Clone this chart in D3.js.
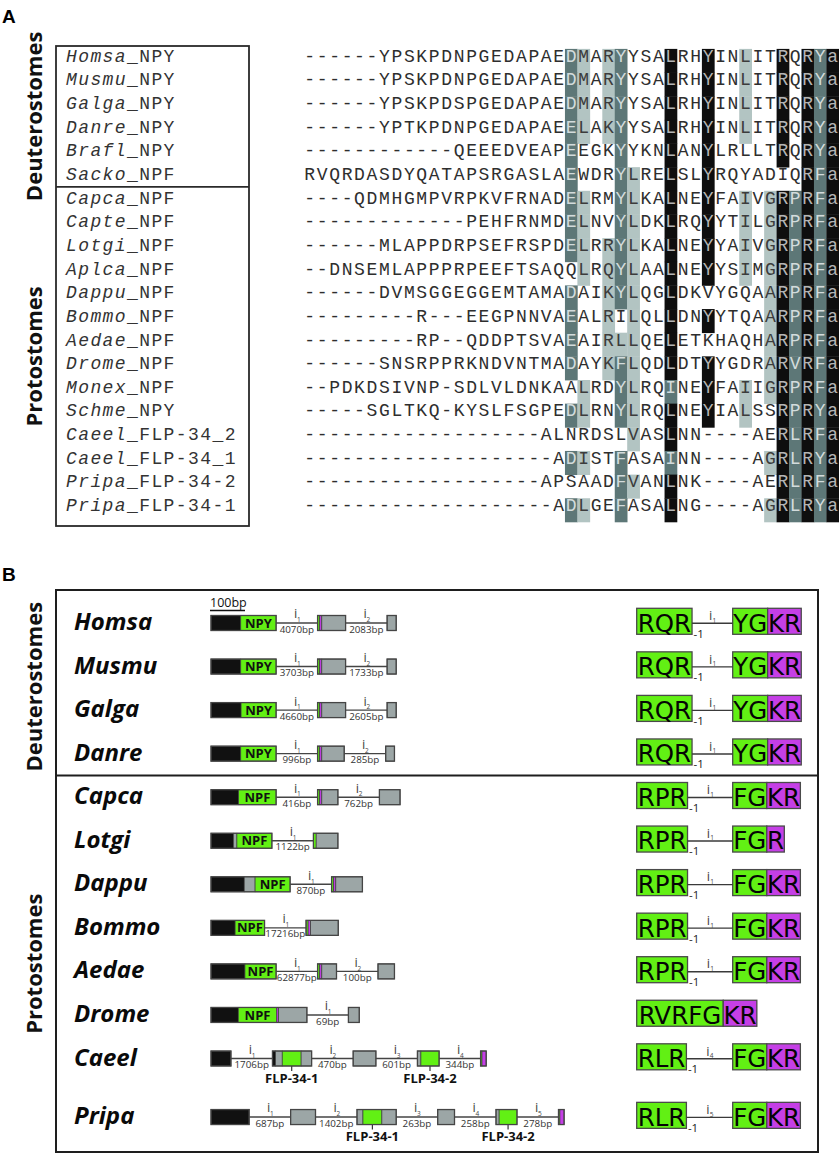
<!DOCTYPE html>
<html><head><meta charset="utf-8">
<script src="https://cdn.jsdelivr.net/npm/d3@7"></script>
<style>body{margin:0;background:#fff}svg{display:block}</style>
</head><body><svg id="c" width="839" height="1153"></svg>
<script>
// ---------------- Panel A data ----------------
const alnSpecies = ["Homsa","Musmu","Galga","Danre","Brafl","Sacko","Capca","Capte","Lotgi","Aplca","Dappu","Bommo","Aedae","Drome","Monex","Schme","Caeel","Caeel","Pripa","Pripa"];
const alnGene = ["_NPY","_NPY","_NPY","_NPY","_NPY","_NPF","_NPF","_NPF","_NPF","_NPF","_NPF","_NPF","_NPF","_NPF","_NPF","_NPY","_FLP-34_2","_FLP-34_1","_FLP-34-2","_FLP-34-1"];
const alnSeqs = [
"------YPSKPDNPGEDAPAEDMARYYSALRHYINLITRQRYa",
"------YPSKPDNPGEDAPAEDMARYYSALRHYINLITRQRYa",
"------YPSKPDSPGEDAPAEDMARYYSALRHYINLITRQRYa",
"------YPTKPDNPGEDAPAEELAKYYSALRHYINLITRQRYa",
"------------QEEEDVEAPEEGKYYKNLANYLRLLTRQRYa",
"RVQRDASDYQATAPSRGASLAEWDRYLRELSLYRQYADIQRFa",
"----QDMHGMPVRPKVFRNADELRMYLKALNEYFAIVGRPRFa",
"-------------PEHFRNMDELNVYLDKLRQYYTILGRPRFa",
"------MLAPPDRPSEFRSPDELRRYLKALNEYYAIVGRPRFa",
"--DNSEMLAPPPRPEEFTSAQQLRQYLAALNEYYSIMGRPRFa",
"------DVMSGGEGGEMTAMADAIKYLQGLDKVYGQAARPRFa",
"---------R---EEGPNNVAEALRILQLLDNYYTQAARPRFa",
"---------RP--QDDPTSVAEAIRLLQELETKHAQHARPRFa",
"------SNSRPPRKNDVNTMADAYKFLQDLDTYYGDRARVRFa",
"--PDKDSIVNP-SDLVLDNKAALRDYLRQINEYFAIIGRPRFa",
"-----SGLTKQ-KYSLFSGPEDLRNYLRQLNEYIALSSRPRYa",
"-------------------ALNRDSLVASLNN----AERLRFa",
"--------------------ADISTFASAINN----AGRLRYa",
"-------------------APSAADFVANLNK----AERLRFa",
"--------------------ADLGEFASALNG----AGRLRYa"
];
// shading of columns 21..42 (l = light, d = dark, b = black, . = none)
const alnShadeTail = [
"dl.ld...b..b..l..b.bdb",
"dl.ld...b..b..l..b.bdb",
"dl.ld...b..b..l..b.bdb",
"dl.ld...b..b..l..b.bdb",
"d...d...b..b.....b.bdb",
"d...dl..b..b.......bdb",
"dl..dl..b..b..l.lbdbdb",
"dl..dl..b..b..l.lbdbdb",
"dl.ldl..b..b..l.lbdbdb",
".l.ldl..b..b..l.lbdbdb",
"d..ldl..b.......lbdbdb",
"d..l.l..b..b....lbdbdb",
"d..lll..b.......lbdbdb",
"d..ldl..b..b....lbdbdb",
".l..dl..d..b..l.lbdbdb",
"dl..dl..b..b..l..bdbdb",
".....l..b........bdbdb",
"dl..d...d.......lbdbdb",
"....dl..b........bdbdb",
"dl..d...b.......lbdbdb"
];
const alnGroups = ["Deuterostomes","Protostomes"];
const alnGroupRows = [[0,5],[6,19]];

// ---------------- Panel B data ----------------
const bSpecies = ["Homsa","Musmu","Galga","Danre","Capca","Lotgi","Dappu","Bommo","Aedae","Drome","Caeel","Pripa"];
// exons: list of segments [type, bp, label]; k=black(signal), g=green(peptide), p=purple(cleavage), s=grey
const bExons = [
 [[["k",85],["g",101,"NPY"]], [["g",6],["p",6],["s",68]], [["s",26]]],
 [[["k",85],["g",101,"NPY"]], [["g",6],["p",6],["s",68]], [["s",26]]],
 [[["k",86],["g",100,"NPY"]], [["g",6],["p",6],["s",68]], [["s",26]]],
 [[["k",85],["g",101,"NPY"]], [["g",6],["p",6],["s",64]], [["s",25]]],
 [[["k",79],["g",107,"NPF"]], [["g",6],["p",6],["s",46]], [["s",59]]],
 [[["k",64],["s",10],["g",100,"NPF"]], [["g",8],["s",62]]],
 [[["k",95],["s",31],["g",100,"NPF"]], [["g",6],["p",6],["s",76]]],
 [[["k",69],["g",84,"NPF"]], [["g",6],["p",7],["s",79]]],
 [[["k",97],["g",89,"NPF"]], [["g",6],["p",6],["s",42]], [["s",47]]],
 [[["k",78],["g",110,"NPF"],["p",5],["s",81]], [["s",31]]],
 [[["k",57]], [["k",9],["s",19],["g",54,"FLP-34-1"],["s",30]], [["s",65]], [["s",10],["g",52,"FLP-34-2"]], [["g",4],["p",12]]],
 [[["k",109]], [["s",71]], [["s",17],["g",54,"FLP-34-1"],["s",41]], [["s",48]], [["s",9],["g",51,"FLP-34-2"]], [["g",4],["p",12]]]
];
const bIntrons = [
 [4070,2083],[3703,1733],[4660,2605],[996,285],[416,762],[1122],[870],[17216],[62877,100],[69],
 [1706,470,601,344],[687,1402,263,258,278]
];
const pepLeft = ["RQR","RQR","RQR","RQR","RPR","RPR","RPR","RPR","RPR","RVRFG","RLR","RLR"];
const pepIntron = [1,1,1,1,1,1,1,1,1,null,4,5];
const pepGreen = ["YG","YG","YG","YG","FG","FG","FG","FG","FG","","FG","FG"];
const pepPurple = ["KR","KR","KR","KR","KR","R","KR","KR","KR","KR","KR","KR"];
const bGroups = ["Deuterostomes","Protostomes"];

// ---------------- drawing ----------------
const svg = d3.select("#c");
svg.append("rect").attr("width",839).attr("height",1153).attr("fill","#fff");

const seqFont = "'Liberation Mono', 'DejaVu Sans Mono', monospace";
const sansFont = "'Open Sans', 'DejaVu Sans', sans-serif";

// Panel letters
svg.append("text").attr("x",2).attr("y",23).text("A")
  .style("font-family","'Liberation Sans', Arial, sans-serif").style("font-weight","bold").style("font-size","19px");
svg.append("text").attr("x",2).attr("y",581).text("B")
  .style("font-family","'Liberation Sans', Arial, sans-serif").style("font-weight","bold").style("font-size","19px");

// ---- Panel A ----
const nCol = alnSeqs[0].length;
const colW = 12.45, rowH = 23.65;
const xCol = d3.scaleLinear().domain([0, nCol]).range([303.5, 303.5 + colW * nCol]);
const yRow = d3.scaleLinear().domain([0, alnSeqs.length - 1]).range([61.7, 61.7 + rowH * (alnSeqs.length - 1)]);
const shadeFill = {l:"#b2c4c2", d:"#5d7777", b:"#0e0e0e"};
const textFill = {".":"#2e2e2e", l:"#3c3c3c", d:"#d3dcdc", b:"#b5b5b5"};
const alnShade = alnShadeTail.map(s => s.padStart(nCol, "."));

const cells = [];
alnSeqs.forEach((s, r) => { for (let c = 0; c < s.length; c++) cells.push({r, c, ch: s[c], sh: alnShade[r][c]}); });
const gA = svg.append("g");
gA.selectAll("rect.sh").data(cells.filter(d => d.sh !== ".")).join("rect")
  .attr("class","sh")
  .attr("x", d => xCol(d.c)).attr("y", d => yRow(d.r) - 12.8)
  .attr("width", colW + 0.3).attr("height", rowH + 0.4)
  .attr("fill", d => shadeFill[d.sh]);
gA.selectAll("text.aa").data(cells).join("text")
  .attr("class","aa")
  .attr("x", d => xCol(d.c) + colW / 2).attr("y", d => yRow(d.r))
  .attr("text-anchor","middle")
  .style("font-family", seqFont).style("font-size","18px")
  .attr("fill", d => textFill[d.sh]).text(d => d.ch);

// names
const nameT = gA.selectAll("text.nm").data(alnSpecies).join("text")
  .attr("class","nm").attr("x",66).attr("y",(d,i) => yRow(i))
  .style("font-family", seqFont).style("font-size","18px").style("letter-spacing","1.4px").attr("fill","#333");
nameT.append("tspan").style("font-style","italic").text(d => d);
nameT.append("tspan").text((d,i) => alnGene[i]);

// box
const boxTop = 46, boxBot = 526, boxL = 56, boxR = 249;
const divA = (yRow(alnGroupRows[0][1]) + yRow(alnGroupRows[1][0])) / 2 - 5;
gA.append("rect").attr("x",boxL).attr("y",boxTop).attr("width",boxR-boxL).attr("height",boxBot-boxTop)
  .attr("fill","none").attr("stroke","#2a2a2a").attr("stroke-width",1.8);
gA.append("line").attr("x1",boxL).attr("x2",boxR).attr("y1",divA).attr("y2",divA)
  .attr("stroke","#2a2a2a").attr("stroke-width",1.8);
const aRegions = [[boxTop, divA],[divA, boxBot]];
alnGroups.forEach((g,i) => {
  const cy = (aRegions[i][0] + aRegions[i][1]) / 2;
  gA.append("text").attr("transform",`translate(42,${cy}) rotate(-90)`).attr("text-anchor","middle")
    .style("font-family",sansFont).style("font-weight","bold").style("font-size","22px").attr("fill","#111").text(g);
});

// ---- Panel B ----
const gB = svg.append("g");
const bTop = 590, bBot = 1152, bL = 56, bR = 818;
const rowGap = 43.55;
// extra room after rows that carry peptide labels below
const yB = [];
{ let y = 623; bExons.forEach((ex,i) => { yB.push(y); const hasBelow = ex.some(e => e.some(s => s[2] && s[2].startsWith("FLP"))); y += rowGap + (hasBelow ? 15 : 0); }); }
const divB = (yB[3] + yB[4]) / 2;

gB.append("rect").attr("x",bL).attr("y",bTop).attr("width",bR-bL).attr("height",bBot-bTop)
  .attr("fill","none").attr("stroke","#1e1e1e").attr("stroke-width",2);
gB.append("line").attr("x1",bL).attr("x2",bR).attr("y1",divB).attr("y2",divB).attr("stroke","#1e1e1e").attr("stroke-width",2);
const bRegions = [[bTop, divB],[divB, bBot]];
bGroups.forEach((g,i) => {
  const cy = (bRegions[i][0] + bRegions[i][1]) / 2 + (i === 0 ? 4 : 0);
  gB.append("text").attr("transform",`translate(42,${cy}) rotate(-90)`).attr("text-anchor","middle")
    .style("font-family",sansFont).style("font-weight","bold").style("font-size","22px").attr("fill","#111").text(g);
});

const bp = d3.scaleLinear().domain([0,100]).range([0,35]);
const geneX0 = 211, intronW = 41.5, barH = 15;
const segFill = {k:"#111111", g:"#62f014", p:"#c53fe6", s:"#9ca6a6"};

// scale bar
gB.append("text").attr("x",geneX0 - 1).attr("y",606.5).text("100bp")
  .style("font-family",sansFont).style("font-size","12.5px").attr("fill","#111");
gB.append("line").attr("x1",geneX0 - 1).attr("x2",geneX0 - 1 + bp(100)).attr("y1",610.5).attr("y2",610.5)
  .attr("stroke","#111").attr("stroke-width",1.6);

bSpecies.forEach((sp, i) => {
  const cy = yB[i];
  const g = gB.append("g");
  g.append("text").attr("x",74).attr("y",cy + 7).text(sp)
    .style("font-family",sansFont).style("font-weight","bold").style("font-style","italic").style("font-size","24px").attr("fill","#0a0a0a");
  let x = geneX0;
  bExons[i].forEach((exon, k) => {
    const x0 = x;
    exon.forEach(seg => {
      const w = bp(seg[1]);
      g.append("rect").attr("x",x).attr("y",cy - barH/2).attr("width",w).attr("height",barH)
        .attr("fill",segFill[seg[0]]).attr("stroke","#3a3a3a").attr("stroke-width",0.7);
      if (seg[2]) {
        const mx = x + w / 2;
        if (seg[2].startsWith("FLP")) {
          g.append("line").attr("x1",mx).attr("x2",mx).attr("y1",cy + barH/2).attr("y2",cy + barH/2 + 5)
            .attr("stroke","#333").attr("stroke-width",1.2);
          g.append("text").attr("x",mx).attr("y",cy + 24).attr("text-anchor","middle").text(seg[2])
            .style("font-family",sansFont).style("font-weight","bold").style("font-size","13px").attr("fill","#111");
        } else {
          g.append("text").attr("x",mx).attr("y",cy + 4.6).attr("text-anchor","middle").text(seg[2])
            .style("font-family",sansFont).style("font-weight","bold").style("font-size","13px").attr("fill","#111");
        }
      }
      x += w;
    });
    g.append("rect").attr("x",x0).attr("y",cy - barH/2).attr("width",x - x0).attr("height",barH)
      .attr("fill","none").attr("stroke","#454545").attr("stroke-width",1.3);
    if (k < bIntrons[i].length) {
      const x1 = x, x2 = x + intronW, mx = (x1 + x2) / 2;
      g.append("line").attr("x1",x1).attr("x2",x2).attr("y1",cy).attr("y2",cy).attr("stroke","#444").attr("stroke-width",1.4);
      g.append("text").attr("x",mx - 1.2).attr("y",cy - 4.6).attr("text-anchor","middle").text("i")
        .style("font-family",sansFont).style("font-size","13px").attr("fill","#444");
      g.append("text").attr("x",mx + 2).attr("y",cy - 0.8).attr("text-anchor","middle").text(k + 1)
        .style("font-family",sansFont).style("font-size","6.5px").attr("fill","#444");
      g.append("text").attr("x",mx).attr("y",cy + 9.6).attr("text-anchor","middle").text(bIntrons[i][k] + "bp")
        .style("font-family",sansFont).style("font-size","9.8px").attr("fill","#333");
      x = x2;
    }
  });

  // peptide cleavage site schematic
  const pepFont = "'DejaVu Sans', Verdana, sans-serif";
  const by = cy - 14.7, bh = 26, base = cy + 8.7;
  const px0 = 636.7, px2 = 732.7;
  const addBox = (xs, txt, fill, pad) => {
    const t = g.append("text").attr("y",base).attr("text-anchor","middle").text(txt)
      .style("font-family",pepFont).style("font-size","24.5px").attr("fill","#050505");
    const w = t.node().getComputedTextLength() + pad;
    g.insert("rect","text").attr("x",xs).attr("y",by).attr("width",w).attr("height",bh)
      .attr("fill",fill).attr("stroke","#4a4a4a").attr("stroke-width",1.3);
    t.attr("x", xs + w / 2);
    return xs + w;
  };
  const lx = addBox(px0, pepLeft[i], segFill.g, pepIntron[i] === null ? 4 : 2);
  if (pepIntron[i] !== null) {
    g.append("line").attr("x1",lx).attr("x2",px2).attr("y1",cy + 0.3).attr("y2",cy + 0.3).attr("stroke","#3a3a3a").attr("stroke-width",1.4);
    const mx = (lx + px2) / 2;
    g.append("text").attr("x",mx - 1.6).attr("y",cy - 3).attr("text-anchor","middle").text("i")
      .style("font-family",sansFont).style("font-size","13px").attr("fill","#444");
    g.append("text").attr("x",mx + 2).attr("y",cy - 0.3).attr("text-anchor","middle").text(pepIntron[i])
      .style("font-family",sansFont).style("font-size","6.5px").attr("fill","#444");
    g.append("text").attr("x",lx + 1.5).attr("y",cy + 14.7).text("-1")
      .style("font-family",sansFont).style("font-size","11.5px").attr("fill","#222");
    const gx2 = addBox(px2, pepGreen[i], segFill.g, 1);
    addBox(gx2, pepPurple[i], segFill.p, 0.5);
  } else {
    addBox(lx, pepPurple[i], segFill.p, 0.5);
  }
  g.selectAll("text").raise();
});
</script></body></html>
